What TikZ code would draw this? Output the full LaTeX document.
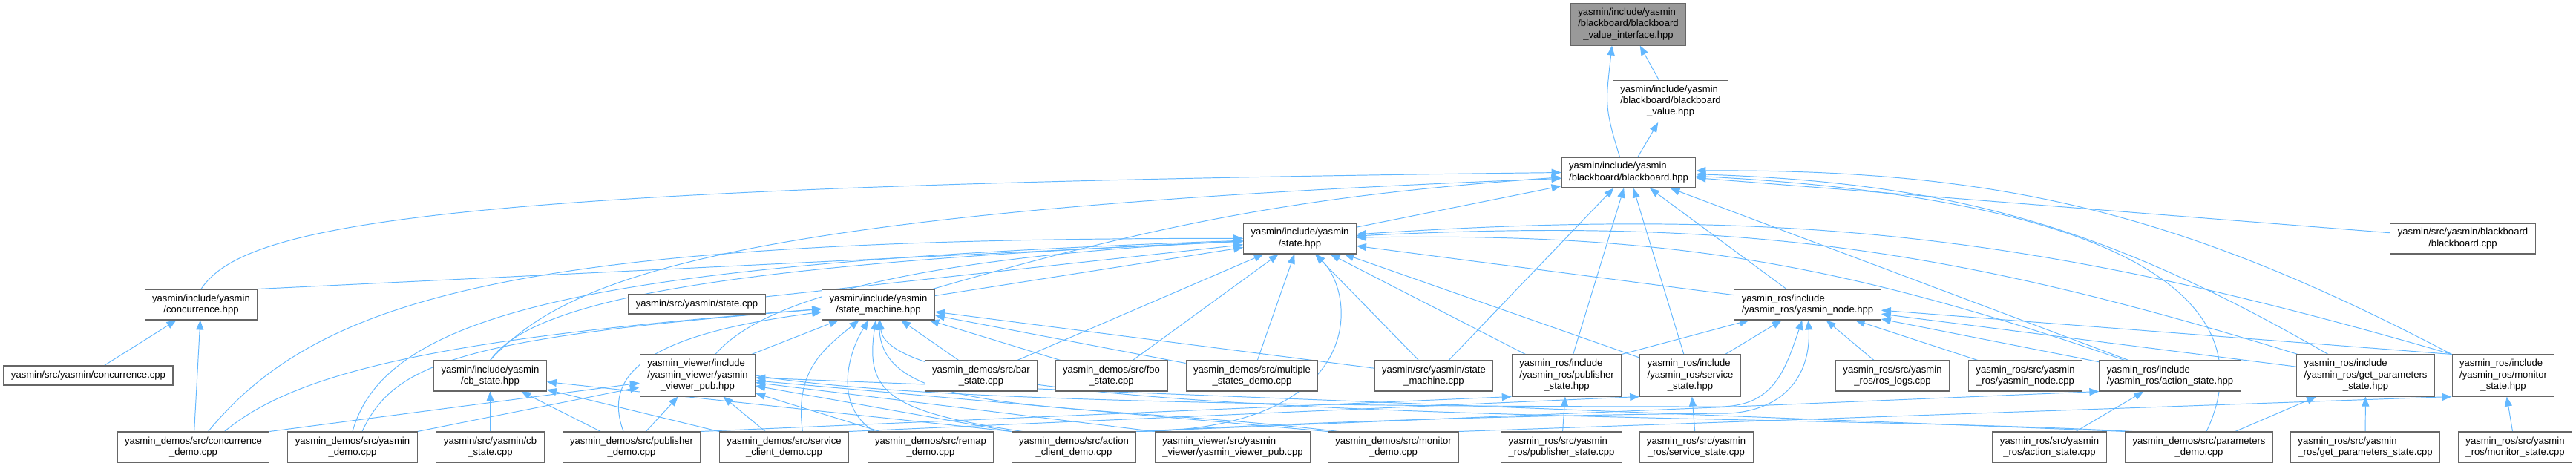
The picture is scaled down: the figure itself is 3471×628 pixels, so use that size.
\documentclass[tikz,border=0pt]{standalone}
\usepackage{fontspec}
\setmainfont{Liberation Sans}
\usetikzlibrary{arrows.meta,calc}
\definecolor{inclblue}{HTML}{63B8FF}
\definecolor{boxline}{HTML}{666666}
\definecolor{curfill}{HTML}{999999}
\newcommand{\flbl}[2]{\begin{tabular}{@{}l@{}}#1\\\multicolumn{1}{@{}c@{}}{#2}\end{tabular}}
\pgfdeclarelayer{bg}
\pgfsetlayers{bg,main}
\begin{document}
\begin{tikzpicture}[x=0.02cm,y=-0.02cm,
 fl/.style={draw=boxline,line width=0.6pt,fill=white,inner xsep=0.2cm,inner ysep=0pt,minimum height=0.52cm,font=\fontsize{7.45pt}{8.54pt}\selectfont},
 fl2/.style={fl,minimum height=0.82cm},
 fl3/.style={fl,minimum height=1.12cm},
 cur/.style={fl3,fill=curfill},
 inc/.style={draw=inclblue,line width=0.55pt,-{Triangle[length=0.26cm,width=0.2cm]}}]
\useasboundingbox (0,0) rectangle (3471,628);
% headers of yasmin
\node[cur] (vi) at (2194,33) {\flbl{yasmin/include/yasmin\\/blackboard/blackboard}{\_value\_interface.hpp}};
\node[fl3] (bv) at (2251,136.5) {\flbl{yasmin/include/yasmin\\/blackboard/blackboard}{\_value.hpp}};
\node[fl2] (bb) at (2194.5,232.5) {\flbl{yasmin/include/yasmin}{/blackboard/blackboard.hpp}};
\node[fl2] (st) at (1751.5,321.5) {\flbl{yasmin/include/yasmin}{/state.hpp}};
\node[fl2] (bbcpp) at (3318.5,321.5) {\flbl{yasmin/src/yasmin/blackboard}{/blackboard.cpp}};
\node[fl2] (conc) at (271,410.5) {\flbl{yasmin/include/yasmin}{/concurrence.hpp}};
\node[fl] (stcpp) at (939,410) {yasmin/src/yasmin/state.cpp};
\node[fl2] (sm) at (1183.5,410.5) {\flbl{yasmin/include/yasmin}{/state\_machine.hpp}};
\node[fl2] (node) at (2435.5,410.5) {\flbl{yasmin\_ros/include}{/yasmin\_ros/yasmin\_node.hpp}};
% middle row
\node[fl] (conccpp) at (119,506) {yasmin/src/yasmin/concurrence.cpp};
\node[fl2] (cb) at (660.5,506.5) {\flbl{yasmin/include/yasmin}{/cb\_state.hpp}};
\node[fl3] (vpub) at (940,506) {\flbl{yasmin\_viewer/include\\/yasmin\_viewer/yasmin}{\_viewer\_pub.hpp}};
\node[fl2] (bar) at (1322,506.5) {\flbl{yasmin\_demos/src/bar}{\_state.cpp}};
\node[fl2] (foo) at (1497.5,506.5) {\flbl{yasmin\_demos/src/foo}{\_state.cpp}};
\node[fl2] (multi) at (1687,506.5) {\flbl{yasmin\_demos/src/multiple}{\_states\_demo.cpp}};
\node[fl2] (smcpp) at (1932,506.5) {\flbl{yasmin/src/yasmin/state}{\_machine.cpp}};
\node[fl3] (pubst) at (2111,506) {\flbl{yasmin\_ros/include\\/yasmin\_ros/publisher}{\_state.hpp}};
\node[fl3] (srvst) at (2277.5,506) {\flbl{yasmin\_ros/include\\/yasmin\_ros/service}{\_state.hpp}};
\node[fl2] (logs) at (2550,506.5) {\flbl{yasmin\_ros/src/yasmin}{\_ros/ros\_logs.cpp}};
\node[fl2] (nodecpp) at (2729,506.5) {\flbl{yasmin\_ros/src/yasmin}{\_ros/yasmin\_node.cpp}};
\node[fl2] (actst) at (2924,506.5) {\flbl{yasmin\_ros/include}{/yasmin\_ros/action\_state.hpp}};
\node[fl3] (getp) at (3187.5,506) {\flbl{yasmin\_ros/include\\/yasmin\_ros/get\_parameters}{\_state.hpp}};
\node[fl3] (monst) at (3373,506) {\flbl{yasmin\_ros/include\\/yasmin\_ros/monitor}{\_state.hpp}};
% bottom row
\node[fl2] (concdemo) at (260.5,602.5) {\flbl{yasmin\_demos/src/concurrence}{\_demo.cpp}};
\node[fl2] (yasdemo) at (475,602.5) {\flbl{yasmin\_demos/src/yasmin}{\_demo.cpp}};
\node[fl2] (cbcpp) at (660.5,602.5) {\flbl{yasmin/src/yasmin/cb}{\_state.cpp}};
\node[fl2] (pubdemo) at (851,602.5) {\flbl{yasmin\_demos/src/publisher}{\_demo.cpp}};
\node[fl2] (srvdemo) at (1056.5,602.5) {\flbl{yasmin\_demos/src/service}{\_client\_demo.cpp}};
\node[fl2] (remap) at (1254,602.5) {\flbl{yasmin\_demos/src/remap}{\_demo.cpp}};
\node[fl2] (actdemo) at (1447,602.5) {\flbl{yasmin\_demos/src/action}{\_client\_demo.cpp}};
\node[fl2] (vpubcpp) at (1661,602.5) {\flbl{yasmin\_viewer/src/yasmin}{\_viewer/yasmin\_viewer\_pub.cpp}};
\node[fl2] (mondemo) at (1877.5,602.5) {\flbl{yasmin\_demos/src/monitor}{\_demo.cpp}};
\node[fl2] (pubstcpp) at (2104,602.5) {\flbl{yasmin\_ros/src/yasmin}{\_ros/publisher\_state.cpp}};
\node[fl2] (srvstcpp) at (2285.5,602.5) {\flbl{yasmin\_ros/src/yasmin}{\_ros/service\_state.cpp}};
\node[fl2] (actstcpp) at (2761.5,602.5) {\flbl{yasmin\_ros/src/yasmin}{\_ros/action\_state.cpp}};
\node[fl2] (pardemo) at (2963,602.5) {\flbl{yasmin\_demos/src/parameters}{\_demo.cpp}};
\node[fl2] (getpcpp) at (3187,602.5) {\flbl{yasmin\_ros/src/yasmin}{\_ros/get\_parameters\_state.cpp}};
\node[fl2] (monstcpp) at (3389,602.5) {\flbl{yasmin\_ros/src/yasmin}{\_ros/monitor\_state.cpp}};

\begin{pgfonlayer}{bg}
\fill[white] (0,0) rectangle (3471,628);
% blackboard
\draw[inc] (bv) -- (vi);
\draw[inc] ($(bb.north)+(-12,0)$) .. controls +(-22,-70) and +(-8,75) .. ($(vi.south)+(-22,0)$);
\draw[inc] (bb) -- (bv);
\draw[inc] (st) -- (bb);
\draw[inc] (bbcpp) -- (bb);
\draw[inc] (conc.north) .. controls (330,300) and (600,250) .. (bb.west);
\draw[inc] (cb.north) .. controls (760,380) and (950,285) .. ($(bb.west)+(0,8)$);
\draw[inc] (sm) to[bend left=6] (bb);
\draw[inc] (smcpp) -- (bb);
\draw[inc] (pubst) -- (bb);
\draw[inc] (srvst) -- (bb);
\draw[inc] (node) -- (bb);
\draw[inc] (actst) -- (bb);
\draw[inc] (getp) to[bend right=14] (bb);
\draw[inc] (monst.north west) to[bend right=14] (bb);
\draw[inc] (pardemo) .. controls (3050,420) and (2900,270) .. (bb);
% state.hpp
\draw[inc] (conc.north east) -- (st);
\draw[inc] (stcpp) -- (st);
\draw[inc] (sm) -- (st);
\draw[inc] (cb.north) .. controls (720,400) and (1000,355) .. (st);
\draw[inc] (vpub.50) .. controls (1030,400) and (1250,345) .. (st);
\draw[inc] ($(concdemo.north)+(20,0)$) .. controls (430,400) and (700,320) .. (st);
\draw[inc] (yasdemo.north) .. controls (520,420) and (800,355) .. (st);
\draw[inc] (bar) -- (st);
\draw[inc] (foo) -- (st);
\draw[inc] (multi) -- (st);
\draw[inc] (smcpp) -- (st);
\draw[inc] (pubst) -- (st);
\draw[inc] (srvst) -- (st);
\draw[inc] (node) -- (st);
\draw[inc] (actst) to[bend right=10] (st);
\draw[inc] (getp) to[bend right=10] (st);
\draw[inc] (monst.north west) to[bend right=10] (st);
\draw[inc] (actdemo.north east) .. controls (1840,580) and (1830,400) .. (st);
% state_machine.hpp
\draw[inc] (bar) -- (sm);
\draw[inc] (foo) -- (sm);
\draw[inc] (multi) -- (sm);
\draw[inc] (smcpp) -- (sm);
\draw[inc] (vpub) -- (sm);
\draw[inc] ($(concdemo.north)+(42,0)$) .. controls (400,500) and (600,455) .. (sm);
\draw[inc] ($(yasdemo.north)+(13,0)$) .. controls (530,490) and (620,455) .. (sm);
\draw[inc] ($(pubdemo.north)+(-11,0)$) .. controls (810,500) and (880,450) .. (sm);
\draw[inc] ($(srvdemo.north)+(25,0)$) .. controls (1070,500) and (1110,470) .. (sm);
\draw[inc] ($(remap.north west)+(10,0)$) .. controls (1125,550) and (1140,480) .. (sm);
\draw[inc] ($(actdemo.north west)+(15,0)$) .. controls (1200,555) and (1165,530) .. (sm);
\draw[inc] ($(mondemo.north west)+(15,0)$) .. controls (1450,540) and (1190,565) .. (sm);
\draw[inc] ($(pardemo.north west)+(10,0)$) .. controls (2400,555) and (1200,575) .. (sm);
% concurrence and cb_state
\draw[inc] (conccpp) -- (conc);
\draw[inc] (concdemo) -- (conc);
\draw[inc] (cbcpp) -- (cb);
\draw[inc] (pubdemo) -- (cb);
\draw[inc] (srvdemo.north west) -- (cb);
\draw[inc] (actdemo.north west) -- (cb);
% viewer pub
\draw[inc] (concdemo.north east) -- (vpub);
\draw[inc] (yasdemo.north east) -- (vpub);
\draw[inc] (pubdemo) -- (vpub);
\draw[inc] (srvdemo) -- (vpub);
\draw[inc] (remap) -- (vpub);
\draw[inc] (actdemo.north west) -- (vpub);
\draw[inc] (vpubcpp.north west) -- (vpub);
\draw[inc] (mondemo.north west) -- (vpub);
\draw[inc] (pardemo.north west) -- (vpub);
% ros states
\draw[inc] (pubstcpp) -- (pubst);
\draw[inc] (pubdemo.north east) -- (pubst.south west);
\draw[inc] (srvstcpp) -- (srvst);
\draw[inc] (srvdemo.north east) -- (srvst.south west);
\draw[inc] (actstcpp) -- (actst);
\draw[inc] (actdemo.north east) -- (actst.south west);
\draw[inc] (getpcpp) -- (getp);
\draw[inc] (pardemo) -- (getp);
\draw[inc] (monstcpp) -- (monst);
\draw[inc] (mondemo.north east) -- (monst.south west);
% yasmin_node.hpp
\draw[inc] (pubst.north east) -- (node);
\draw[inc] (srvst) -- (node);
\draw[inc] (actst) -- (node);
\draw[inc] (getp) -- (node);
\draw[inc] (monst.north west) -- (node);
\draw[inc] (logs) -- (node);
\draw[inc] (nodecpp) -- (node);
\draw[inc] (vpub.east) .. controls (1250,545) and (1900,548) .. (2320,548) .. controls (2390,546) and (2405,500) .. (node);
\draw[inc] (actdemo.north east) .. controls (1900,562) and (2200,558) .. (2330,557) .. controls (2410,552) and (2440,500) .. (node);
\end{pgfonlayer}
\end{tikzpicture}
\end{document}
